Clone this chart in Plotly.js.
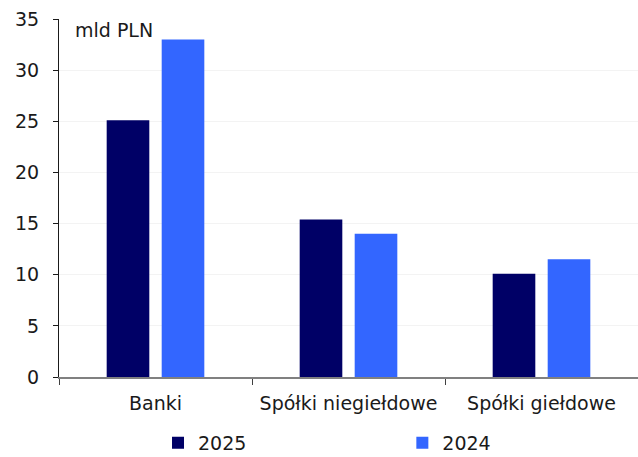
<!DOCTYPE html>
<html>
<head>
<meta charset="utf-8">
<script src="https://cdn.plot.ly/plotly-3.0.1.min.js"></script>
<style>html,body{margin:0;padding:0;background:#fff;}#chart{width:638px;height:457px;}</style>
</head>
<body>
<div id="chart"></div>
<script>
var categories = ["Banki", "Spółki niegiełdowe", "Spółki giełdowe"];
var values2025 = [25.1, 15.4, 10.1];
var values2024 = [33.0, 14.0, 11.5];
var seriesNames = ["2025", "2024"];
var yTicks = [0, 5, 10, 15, 20, 25, 30, 35];
var unitLabel = "mld PLN";

var FONT = "'DejaVu Sans', sans-serif";

var traces = [
  {type: "bar", name: seriesNames[0], x: categories, y: values2025, legend: "legend",
   marker: {color: "#000066", line: {width: 0}}, hoverinfo: "skip"},
  {type: "bar", name: seriesNames[1], x: categories, y: values2024, legend: "legend2",
   marker: {color: "#3366FF", line: {width: 0}}, hoverinfo: "skip"}
];

var legendFont = {family: FONT, size: 19, color: "#1a1a1a"};

var layout = {
  width: 638, height: 457,
  margin: {l: 59, r: 0, t: 19, b: 80},
  paper_bgcolor: "#ffffff", plot_bgcolor: "#ffffff",
  font: {family: FONT, size: 19, color: "#1a1a1a"},
  barmode: "group",
  bargap: 0.43,
  bargroupgap: 0.225,
  showlegend: true,
  legend: {orientation: "h", xref: "paper", x: 0.171, xanchor: "left",
           yref: "container", y: 0.031, yanchor: "middle", font: legendFont},
  legend2: {orientation: "h", xref: "paper", x: 0.593, xanchor: "left",
            yref: "container", y: 0.031, yanchor: "middle", font: legendFont},
  xaxis: {
    type: "category", automargin: false, tickangle: 0,
    showgrid: false, zeroline: false,
    showline: true, linecolor: "#808080", linewidth: 1.5,
    ticks: "outside", tickson: "boundaries", ticklen: 6, tickcolor: "#404040", tickwidth: 1,
    ticklabelstandoff: 9,
    tickfont: {family: FONT, size: 19, color: "#1a1a1a"},
    fixedrange: true
  },
  yaxis: {
    range: [0, 35], tickvals: yTicks, ticktext: yTicks.map(String), automargin: false,
    showgrid: true, gridcolor: "#f3f3f3", gridwidth: 1,
    zeroline: false,
    showline: true, linecolor: "#1a1a1a", linewidth: 1,
    ticks: "outside", ticklen: 5, tickcolor: "#1a1a1a",
    ticklabelstandoff: 10,
    tickfont: {family: FONT, size: 19, color: "#1a1a1a"},
    fixedrange: true
  },
  annotations: [
    {text: unitLabel, xref: "paper", yref: "paper", x: 0.025, y: 0.969,
     xanchor: "left", yanchor: "middle", showarrow: false,
     font: {family: FONT, size: 19, color: "#1a1a1a"}}
  ]
};

Plotly.newPlot("chart", traces, layout, {displayModeBar: false, staticPlot: true});
</script>
</body>
</html>
